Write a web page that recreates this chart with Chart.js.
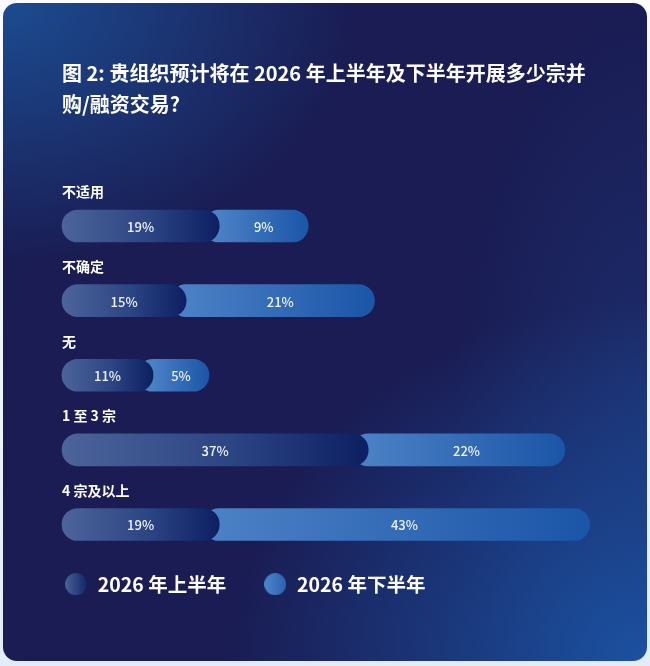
<!DOCTYPE html>
<html><head><meta charset="utf-8">
<script src="https://cdn.jsdelivr.net/npm/chart.js@4.4.1/dist/chart.umd.min.js"></script>
<style>
html,body{margin:0;padding:0;width:650px;height:666px;overflow:hidden;background:linear-gradient(#fafcfe,#e2edf9);}
#card{position:absolute;left:3px;top:3px;width:644px;height:658px;border-radius:14px;
background:
 radial-gradient(ellipse 55% 40% at 0% 0%, rgba(28,78,148,0.95), rgba(28,78,148,0) 100%),
 radial-gradient(ellipse 65% 55% at 100% 100%, rgba(27,84,165,0.95), rgba(27,84,165,0) 100%),
 radial-gradient(ellipse 30% 60% at 100% 60%, rgba(30,60,130,0.5), rgba(30,60,130,0) 100%),
 #1a1c53;}
#wrap{position:absolute;left:0;top:0;width:650px;height:666px;}
</style></head><body>
<div id="card"></div>
<div id="wrap"><canvas id="c" width="650" height="666"></canvas></div>
<script>
const titleLines = ['图 2: 贵组织预计将在 2026 年上半年及下半年开展多少宗并', '购/融资交易?'];
const categories = ['不适用', '不确定', '无', '1 至 3 宗', '4 宗及以上'];
const seriesNames = ['2026 年上半年', '2026 年下半年'];
const firstHalf = [19, 15, 11, 37, 19];
const secondHalf = [9, 21, 5, 22, 43];

const FONT = '"Noto Sans CJK SC", "Noto Sans", sans-serif';
const DARK = ['#4c649a', '#2c4583', '#0c1f62'];
const LIGHT = ['#4a80c4', '#1b55a7'];

// second-half bars sit after the first-half value (floating range built from the arrays)
const secondRange = firstHalf.map((f, i) => [f, f + secondHalf[i]]);

function makeDot(c1, c2){
  const s = 22, cv = document.createElement('canvas');
  cv.width = s; cv.height = s;
  const g = cv.getContext('2d');
  const gr = g.createLinearGradient(0, 0, s, 0);
  gr.addColorStop(0, c1); gr.addColorStop(1, c2);
  g.fillStyle = gr; g.beginPath(); g.arc(s/2, s/2, s/2, 0, Math.PI*2); g.fill();
  return cv;
}
const dots = [makeDot('#4a6298', '#10276a'), makeDot('#4f86ca', '#2a62b0')];

function capOf(h){ return h/2 - 1.5; }

function grad(c){
  const chart = c.chart;
  const ds = c.datasetIndex;
  if (!chart.chartArea) return ds === 0 ? DARK[1] : LIGHT[1];
  const xs = chart.scales.x, i = c.dataIndex;
  const s = ds === 0 ? 0 : firstHalf[i];
  const e = ds === 0 ? firstHalf[i] : firstHalf[i] + secondHalf[i];
  let x0 = xs.getPixelForValue(s), x1 = xs.getPixelForValue(e);
  if (ds === 1) x1 += 15;
  const g = chart.ctx.createLinearGradient(x0, 0, x1, 0);
  if (ds === 0) { g.addColorStop(0, DARK[0]); g.addColorStop(0.55, DARK[1]); g.addColorStop(1, DARK[2]); }
  else { g.addColorStop(0, LIGHT[0]); g.addColorStop(1, LIGHT[1]); }
  return g;
}

const capPlugin = {
  id: 'cap',
  afterDatasetsUpdate(chart){
    const meta = chart.getDatasetMeta(1);
    meta.data.forEach(el => {
      const h = el.height;
      el.base -= h/2;
      el.x += capOf(h);
    });
  }
};

const labelPlugin = {
  id: 'barLabels',
  afterDatasetsDraw(chart){
    const ctx = chart.ctx, ys = chart.scales.y;
    const m0 = chart.getDatasetMeta(0), m1 = chart.getDatasetMeta(1);
    ctx.save();
    categories.forEach((cat, i) => {
      const yc = ys.getPixelForValue(i);
      ctx.fillStyle = '#ffffff';
      ctx.font = 'bold 14px ' + FONT;
      ctx.textAlign = 'left'; ctx.textBaseline = 'middle';
      ctx.fillText(cat, chart.chartArea.left, yc - 34);
      ctx.font = '500 13px ' + FONT;
      ctx.textAlign = 'center';
      ctx.fillStyle = '#eef3fb';
      const d = m0.data[i], l = m1.data[i];
      ctx.fillText(firstHalf[i] + '%', (d.base + d.x)/2, yc + 1);
      ctx.fillText(secondHalf[i] + '%', (d.x + l.x)/2, yc + 1);
    });
    ctx.restore();
  }
};

new Chart(document.getElementById('c'), {
  type: 'bar',
  data: {
    labels: categories,
    datasets: [
      { label: seriesNames[0], data: firstHalf, backgroundColor: grad, borderRadius: 40, borderSkipped: false, barThickness: 32, grouped: false, clip: false },
      { label: seriesNames[1], data: secondRange, backgroundColor: grad, borderRadius: 40, borderSkipped: false, barThickness: 32, grouped: false, clip: false }
    ]
  },
  options: {
    indexAxis: 'y',
    responsive: false,
    animation: false,
    devicePixelRatio: 1,
    layout: { padding: { left: 27, right: 50, top: 58, bottom: 62 } },
    scales: {
      x: { min: 0, max: 65, display: true, grid: { display: false }, border: { display: false }, ticks: { display: false }, afterFit(s){ s.height = 13; } },
      y: { offset: false, display: true, grid: { display: false }, border: { display: false }, ticks: { display: false }, afterFit(s){ s.width = 35; } }
    },
    plugins: {
      tooltip: { enabled: false },
      title: {
        display: true, text: titleLines, align: 'start', fullSize: false, color: '#ffffff',
        font: { family: FONT, size: 20, weight: 'bold', lineHeight: 1.55 },
        padding: { top: 0, bottom: 106 }
      },
      legend: {
        position: 'bottom', align: 'start',
        labels: {
          usePointStyle: true, pointStyleWidth: 24, padding: 37, color: '#ffffff',
          font: { family: FONT, size: 19.5, weight: 'bold' },
          generateLabels(chart){
            return seriesNames.map((n, i) => ({ text: n, pointStyle: dots[i], fillStyle: i ? LIGHT[0] : DARK[1], strokeStyle: 'transparent', lineWidth: 0, fontColor: '#ffffff', hidden: false, datasetIndex: i }));
          }
        }
      }
    }
  },
  plugins: [capPlugin, labelPlugin]
});
</script>
</body></html>
